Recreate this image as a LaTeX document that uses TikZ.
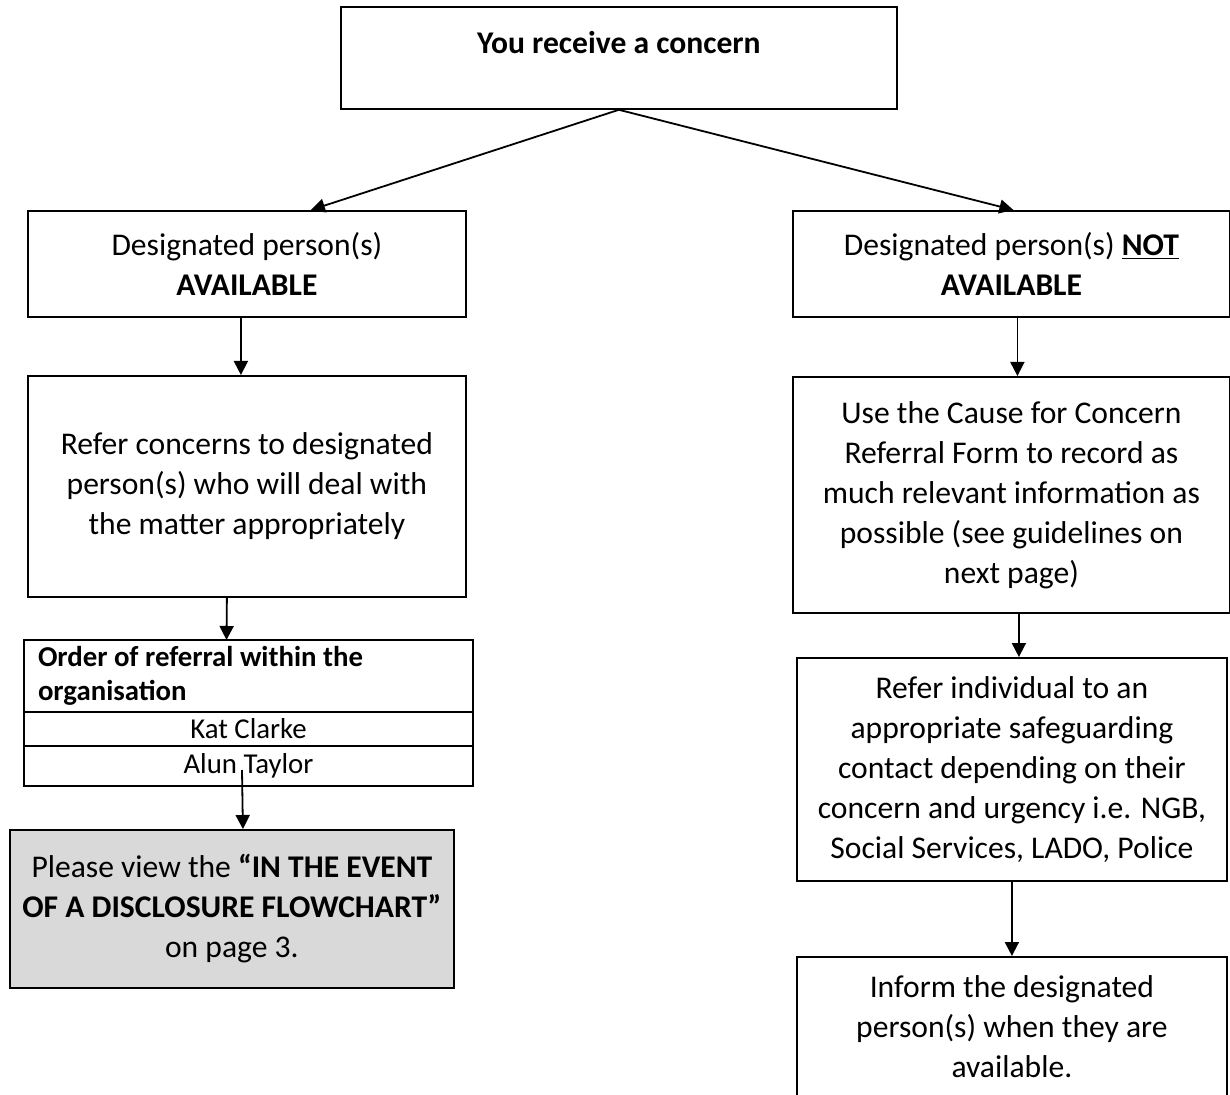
\documentclass[tikz,border=0pt]{standalone}
\usepackage{fontspec}
\setmainfont{Carlito}
\usetikzlibrary{arrows.meta, positioning}
\definecolor{boxgray}{RGB}{217,217,217}
\newcommand{\flowsize}{\fontsize{15.8}{20}\selectfont}
\newcommand{\listsize}{\fontsize{14.4}{17}\selectfont}
\tikzset{
  box/.style={rectangle, draw=black, fill=white, line width=0.9pt,
    align=center, font=\flowsize, inner sep=2pt, anchor=north west},
  greybox/.style={box, fill=boxgray},
  listhead/.style={rectangle, draw=black, line width=0.9pt, align=flush left,
    font=\listsize\bfseries, anchor=north west, inner xsep=7pt, inner ysep=0pt,
    outer sep=0pt, text width=210.5pt, minimum height=36pt},
  listrow/.style={rectangle, draw=black, line width=0.9pt, align=center,
    font=\listsize, minimum width=224.5pt, inner sep=0pt, outer sep=0pt},
  arrow/.style={-{Triangle[length=7pt,width=7pt]}, line width=0.9pt}
}

\begin{document}
\begin{tikzpicture}[x=0.5pt, y=-0.5pt]
  \useasboundingbox (0,0) rectangle (1230,1095);

  % top of the chart
  \node [box, minimum width=278pt, minimum height=51pt] (concern) at (340,6)
    {\textbf{You receive a concern}\\[-11pt]\strut};

  % left branch
  \node [box, minimum width=219pt, minimum height=53pt] (avail) at (27,210)
    {Designated person(s)\\ \textbf{AVAILABLE}};
  \node [box, minimum width=219pt, minimum height=110.5pt] (refer) at (27,375)
    {Refer concerns to designated\\ person(s) who will deal with\\ the matter appropriately};
  \node [listhead] (order) at (24,640) {Order of referral within the\\ organisation};
  \node [listrow, minimum height=17pt, below=0pt of order] (kat) {Kat Clarke};
  \node [listrow, minimum height=20pt, below=0pt of kat] (alun) {Alun Taylor};
  \node [greybox, minimum width=222pt, minimum height=79pt] (view) at (9,829)
    {Please view the \textbf{“IN THE EVENT}\\ \textbf{OF A DISCLOSURE FLOWCHART”}\\ on page 3.};

  % right branch
  \node [box, minimum width=218.5pt, minimum height=53pt] (notavail) at (792,210)
    {Designated person(s) \textbf{\underline{NOT}}\\ \textbf{AVAILABLE}};
  \node [box, minimum width=218.5pt, minimum height=118pt] (form) at (792,376)
    {Use the Cause for Concern\\ Referral Form to record as\\ much relevant information as\\ possible (see guidelines on\\ next page)};
  \node [box, minimum width=215pt, minimum height=111.5pt] (contact) at (796,657)
    {Refer individual to an\\ appropriate safeguarding\\ contact depending on their\\ concern and urgency i.e. NGB,\\ Social Services, LADO, Police};
  \node [box, minimum width=215pt, minimum height=70pt] (inform) at (796,956)
    {Inform the designated\\ person(s) when they are\\ available.};

  % connectors
  \draw [arrow] (concern.south) -- ([xshift=32pt]avail.north);
  \draw [arrow] (concern.south) -- ([xshift=1pt]notavail.north);
  \draw [arrow] ([xshift=-3pt]avail.south) -- ([xshift=-3pt]refer.north);
  \draw [arrow] ([xshift=-10pt]refer.south) -- ([xshift=-11pt]order.north);
  \draw [arrow] ([shift={(-3.25pt,8pt)}]alun.south) -- ([xshift=5.5pt]view.north);
  \draw [arrow] ([xshift=3pt]notavail.south) -- ([xshift=3pt]form.north);
  \draw [arrow] ([xshift=3.75pt]form.south) -- ([xshift=3.5pt]contact.north);
  \draw [arrow] (contact.south) -- (inform.north);
\end{tikzpicture}
\end{document}
